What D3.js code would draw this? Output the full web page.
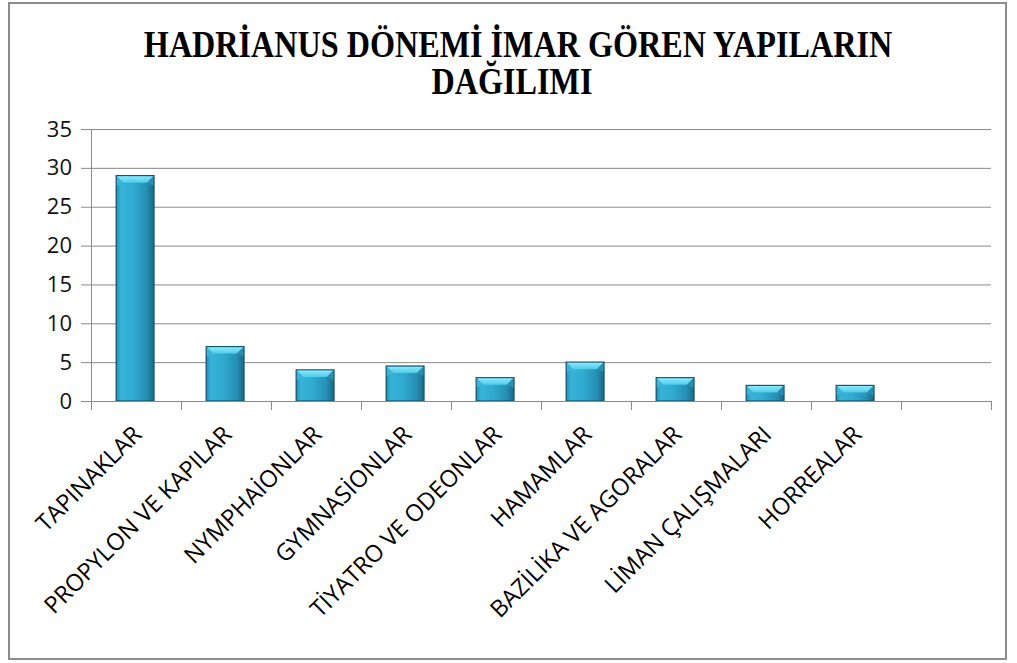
<!DOCTYPE html>
<html><head><meta charset="utf-8">
<script src="https://cdn.jsdelivr.net/npm/d3@7"></script>
<style>html,body{margin:0;padding:0;background:#fff;}svg{display:block;}</style>
</head><body>
<script>
const titleLines = ["HADRİANUS DÖNEMİ İMAR GÖREN YAPILARIN", "DAĞILIMI"];
const categories = ["TAPINAKLAR","PROPYLON VE KAPILAR","NYMPHAİONLAR","GYMNASİONLAR","TİYATRO VE ODEONLAR","HAMAMLAR","BAZİLİKA VE AGORALAR","LİMAN ÇALIŞMALARI","HORREALAR",""];
const values = [29, 7, 4, 4.5, 3, 5, 3, 2, 2, null];
const yTicks = [0,5,10,15,20,25,30,35];

const W = 1017, H = 663;
const svg = d3.select("body").append("svg").attr("width", W).attr("height", H);
const defs = svg.append("defs");
const g1 = defs.append("linearGradient").attr("id","barGrad").attr("x1","0").attr("x2","1").attr("y1","0").attr("y2","0");
[["0%","#2290b6"],["12%","#37b3d8"],["45%","#30aad0"],["80%","#268fb4"],["100%","#1a6a86"]].forEach(s=>g1.append("stop").attr("offset",s[0]).attr("stop-color",s[1]));
const g2 = defs.append("linearGradient").attr("id","topGrad").attr("x1","0").attr("x2","0").attr("y1","0").attr("y2","1");
[["0%","#8ae9fb"],["100%","#4fcbe9"]].forEach(s=>g2.append("stop").attr("offset",s[0]).attr("stop-color",s[1]));

svg.append("rect").attr("x",9).attr("y",3).attr("width",997).attr("height",656)
  .attr("fill","#fff").attr("stroke","#8d8d8d").attr("stroke-width",2);

const title = svg.append("g").attr("font-family","'Liberation Serif','Times New Roman',serif")
  .attr("font-weight","bold").attr("font-size",37).attr("fill","#000").attr("text-anchor","middle");
title.append("text").attr("transform","translate(518,57) scale(0.87,1)").text(titleLines[0]);
title.append("text").attr("transform","translate(512,94) scale(0.87,1)").text(titleLines[1]);

const x = d3.scaleBand().domain(categories.map((c,i)=>i)).range([91,991]).padding(0);
const y = d3.scaleLinear().domain([0,35]).range([401,129]);
const bw = x.bandwidth();

// gridlines
svg.append("g").selectAll("line").data(yTicks.filter(t=>t>0)).join("line")
  .attr("x1",91).attr("x2",991).attr("y1",d=>y(d)+0.5).attr("y2",d=>y(d)+0.5)
  .attr("stroke","#8a8a8a").attr("stroke-width",1);

// y axis
const ya = svg.append("g").attr("transform","translate(91,0)")
  .call(d3.axisLeft(y).tickValues(yTicks).tickSize(10).tickPadding(9).tickSizeOuter(0));
ya.select(".domain").attr("stroke","#8a8a8a");
ya.selectAll(".tick line").attr("stroke","#8a8a8a");
ya.selectAll("text").attr("font-family","'Open Sans',sans-serif").attr("font-size",22).attr("fill","#111");

// bars
const bars = svg.append("g");
categories.forEach((c,i)=>{
  const v = values[i];
  if (v == null) return;
  const bx = x(i) + bw*0.28, w = bw*0.42, top = y(v), bot = y(0);
  const gb = bars.append("g");
  gb.append("rect").attr("x",bx).attr("y",top).attr("width",w).attr("height",bot-top)
    .attr("fill","url(#barGrad)").attr("stroke","#17566d").attr("stroke-width",1.3);
  const bev = Math.min(7, (bot-top)/2);
  gb.append("polygon").attr("points",[[bx+0.6,top+0.6],[bx+w-0.6,top+0.6],[bx+w-bev,top+bev],[bx+bev,top+bev]].map(p=>p.join(",")).join(" "))
    .attr("fill","url(#topGrad)");
  gb.append("polygon").attr("points",[[bx+w-0.6,top+0.6],[bx+w-0.6,top+bev+3],[bx+w-bev,top+bev]].map(p=>p.join(",")).join(" "))
    .attr("fill","#2a8fb2");
  gb.append("polygon").attr("points",[[bx+0.6,top+0.6],[bx+0.6,top+bev+3],[bx+bev,top+bev]].map(p=>p.join(",")).join(" "))
    .attr("fill","#3ab4d8");
});

// x axis line and boundary ticks
const xa = svg.append("g");
xa.append("line").attr("x1",91).attr("x2",991).attr("y1",401.5).attr("y2",401.5).attr("stroke","#8a8a8a");
const bounds = categories.map((c,i)=>x(i)).concat([x(categories.length-1)+bw]);
xa.selectAll("line.tk").data(bounds).join("line").attr("class","tk")
  .attr("x1",d=>d+0.5).attr("x2",d=>d+0.5).attr("y1",401).attr("y2",410).attr("stroke","#8a8a8a");

// x labels
const xl = svg.append("g").attr("transform","translate(0,401)")
  .call(d3.axisBottom(x).tickSize(0).tickFormat(i=>categories[i]));
xl.select(".domain").remove();
xl.selectAll("text").attr("font-family","'Open Sans',sans-serif").attr("font-size",23.5).attr("fill","#000")
  .attr("text-anchor","end").attr("dy",null).attr("y",null)
  .attr("transform","translate(7,35) rotate(-45)");
</script>
</body></html>
